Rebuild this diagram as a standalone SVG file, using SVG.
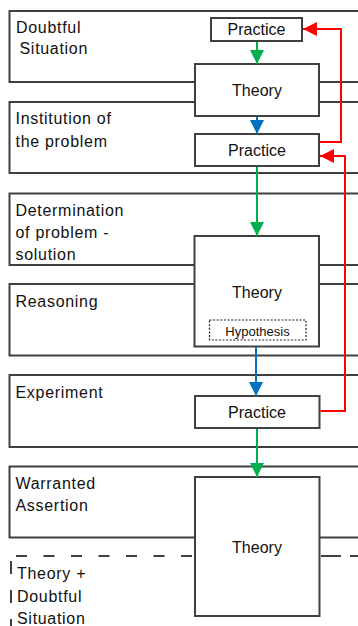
<svg xmlns="http://www.w3.org/2000/svg" width="358" height="626" viewBox="0 0 358 626">
<style>
.stage{fill:none;stroke:#404040;stroke-width:2}
.box{fill:#fff;stroke:#404040;stroke-width:2}
.hyp{fill:#fff;stroke:#222;stroke-width:1.2;stroke-dasharray:2 1.6}
.lbl{font-family:"Liberation Sans",Arial,sans-serif;font-size:16px;fill:#111;letter-spacing:0.7px}
.bt{font-family:"Liberation Sans",Arial,sans-serif;font-size:16px;fill:#111;text-anchor:middle}
.ht{font-family:"Liberation Sans",Arial,sans-serif;font-size:13px;fill:#111;text-anchor:middle}
.g{fill:none;stroke:#00b050;stroke-width:2}
.b{fill:none;stroke:#0070c0;stroke-width:2}
.r{fill:none;stroke:#ff0000;stroke-width:2}
.dash{fill:none;stroke:#404040;stroke-width:2}
</style>
<defs>
<marker id="ag" markerUnits="userSpaceOnUse" markerWidth="14" markerHeight="14" refX="14" refY="7" orient="auto"><path d="M0,0 L14,7 L0,14 z" fill="#00b050"/></marker>
<marker id="ab" markerUnits="userSpaceOnUse" markerWidth="14" markerHeight="14" refX="14" refY="7" orient="auto"><path d="M0,0 L14,7 L0,14 z" fill="#0070c0"/></marker>
<marker id="ar" markerUnits="userSpaceOnUse" markerWidth="14" markerHeight="14" refX="14" refY="7" orient="auto"><path d="M0,0 L14,7 L0,14 z" fill="#ff0000"/></marker>
</defs>
<rect width="358" height="626" fill="#fff"/>

<g id="stage-doubtful">
<rect class="stage" x="9.5" y="11" width="370" height="71"/>
<text class="lbl" x="16" y="33">Doubtful</text>
<text class="lbl" x="19.5" y="54">Situation</text>
</g>
<g id="stage-institution">
<rect class="stage" x="9.5" y="102" width="370" height="71"/>
<text class="lbl" x="15.5" y="124">Institution of</text>
<text class="lbl" x="15.5" y="146.5">the problem</text>
</g>
<g id="stage-determination">
<rect class="stage" x="9.5" y="193.5" width="370" height="71.5"/>
<text class="lbl" x="15.5" y="216">Determination</text>
<text class="lbl" x="15.5" y="237.5">of problem -</text>
<text class="lbl" x="15.5" y="260">solution</text>
</g>
<g id="stage-reasoning">
<rect class="stage" x="9.5" y="284" width="370" height="71.5"/>
<text class="lbl" x="15.5" y="307">Reasoning</text>
</g>
<g id="stage-experiment">
<rect class="stage" x="9.5" y="375" width="370" height="72"/>
<text class="lbl" x="15.5" y="397.5">Experiment</text>
</g>
<g id="stage-warranted">
<rect class="stage" x="9.5" y="466.5" width="370" height="71"/>
<text class="lbl" x="15.5" y="489">Warranted</text>
<text class="lbl" x="15.5" y="511">Assertion</text>
</g>
<g id="stage-next">
<path class="dash" d="M16 556 H194" stroke-dasharray="11 16.5"/>
<path class="dash" d="M321 556 H358" stroke-dasharray="20 9"/>
<path class="dash" d="M11 561 V626" stroke-dasharray="13 16"/>
<text class="lbl" x="17" y="579">Theory +</text>
<text class="lbl" x="17" y="602">Doubtful</text>
<text class="lbl" x="17" y="624">Situation</text>
</g>

<g id="practice1">
<rect class="box" x="211" y="18" width="91" height="23"/>
<text class="bt" x="256.5" y="35">Practice</text>
</g>
<g id="theory1">
<rect class="box" x="195" y="64" width="124" height="52"/>
<text class="bt" x="257" y="96">Theory</text>
</g>
<g id="practice2">
<rect class="box" x="195" y="134" width="124" height="32"/>
<text class="bt" x="257" y="156">Practice</text>
</g>
<g id="theory2">
<rect class="box" x="194.5" y="236" width="124.5" height="110.5"/>
<text class="bt" x="257" y="298">Theory</text>
</g>
<g id="hypothesis">
<rect class="hyp" x="209.5" y="320" width="96.5" height="20"/>
<text class="ht" x="257.5" y="335.5">Hypothesis</text>
</g>
<g id="practice3">
<rect class="box" x="195" y="396" width="124.5" height="32"/>
<text class="bt" x="257" y="418">Practice</text>
</g>
<g id="theory3">
<rect class="box" x="195" y="477" width="124.5" height="139"/>
<text class="bt" x="257" y="553">Theory</text>
</g>

<g id="connectors">
<path class="g" d="M257 42 V64" marker-end="url(#ag)"/>
<path class="b" d="M257 117 V134" marker-end="url(#ab)"/>
<path class="g" d="M257 167 V236" marker-end="url(#ag)"/>
<path class="b" d="M256 347 V396" marker-end="url(#ab)"/>
<path class="g" d="M257 429 V477" marker-end="url(#ag)"/>
<path class="r" d="M320 142 H341 V29 H303" marker-end="url(#ar)"/>
<path class="r" d="M320.5 411 H345 V156 H320" marker-end="url(#ar)"/>
</g>
</svg>
